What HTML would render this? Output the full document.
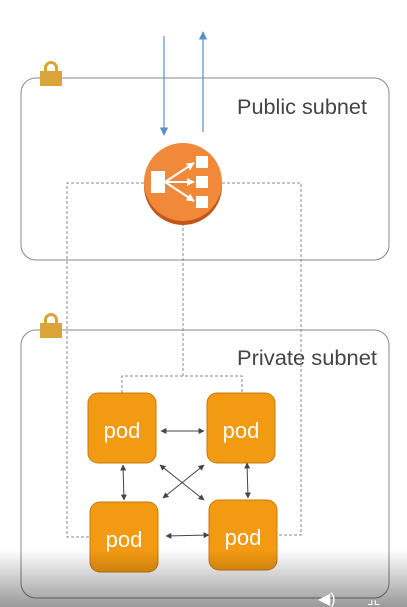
<!DOCTYPE html>
<html><head><style>
html,body{margin:0;padding:0;background:#fff;width:407px;height:607px;overflow:hidden}
svg{display:block}
text{font-family:"Liberation Sans",sans-serif}
</style></head><body>
<svg width="407" height="607" viewBox="0 0 407 607">
<defs>
<marker id="bh" viewBox="0 0 10 10" refX="9" refY="5" markerWidth="7" markerHeight="7" orient="auto-start-reverse"><path d="M0,0L10,5L0,10z" fill="#5b8fc7"/></marker>
<marker id="dh" viewBox="0 0 10 10" refX="9" refY="5" markerWidth="6" markerHeight="6" orient="auto-start-reverse"><path d="M0,0L10,5L0,10z" fill="#444"/></marker>
<marker id="wh" viewBox="0 0 10 10" refX="9" refY="5" markerWidth="4" markerHeight="4" orient="auto"><path d="M0,0L10,5L0,10z" fill="#fff"/></marker>
<linearGradient id="sh" x1="0" y1="0" x2="0" y2="1"><stop offset="0" stop-color="#000" stop-opacity="0"/><stop offset="1" stop-color="#000" stop-opacity="0.4"/></linearGradient>
</defs>
<rect x="21" y="78" width="368" height="182" rx="15" fill="none" stroke="#888" stroke-width="1"/>
<rect x="21" y="330" width="368" height="268" rx="15" fill="none" stroke="#888" stroke-width="1"/>
<g fill="#d9a43a"><path d="M44,72 v-4 a7,7 0 0 1 14,0 v4 h-3 v-4 a4,4 0 0 0 -8,0 v4z"/><rect x="40" y="71" width="22" height="15"/></g>
<g fill="#d9a43a"><path d="M44,324 v-4 a7,7 0 0 1 14,0 v4 h-3 v-4 a4,4 0 0 0 -8,0 v4z"/><rect x="40" y="323" width="22" height="15"/></g>
<text x="367" y="114" font-size="21" fill="#444" text-anchor="end" textLength="130" lengthAdjust="spacingAndGlyphs">Public subnet</text>
<text x="377" y="365" font-size="21" fill="#444" text-anchor="end" textLength="140" lengthAdjust="spacingAndGlyphs">Private subnet</text>
<line x1="164" y1="36" x2="164" y2="135" stroke="#5b8fc7" stroke-width="1.2" marker-end="url(#bh)"/>
<line x1="203" y1="132" x2="203" y2="32" stroke="#5b8fc7" stroke-width="1.2" marker-end="url(#bh)"/>
<g fill="none" stroke="#888" stroke-width="1" stroke-dasharray="3,2">
<polyline points="144,183 67,183 67,537 90,537"/>
<polyline points="222,183 301,183 301,535 277,535"/>
<polyline points="183,223 183,376"/>
<polyline points="122,393 122,376 242,376 242,393"/>
</g>
<circle cx="183" cy="186" r="39" fill="#c0561c"/>
<circle cx="183" cy="182" r="39" fill="#f08a3a"/>
<g fill="#fff"><rect x="151" y="171" width="14" height="22"/><rect x="196" y="156" width="12" height="12"/><rect x="196" y="176" width="12" height="12"/><rect x="196" y="196" width="12" height="12"/></g>
<g stroke="#fff" stroke-width="2" marker-end="url(#wh)"><line x1="165" y1="182" x2="194" y2="163"/><line x1="165" y1="182" x2="194" y2="182"/><line x1="165" y1="182" x2="194" y2="201"/></g>
<g fill="#f29a12" stroke="#c77a10" stroke-width="1">
<rect x="88" y="393" width="68" height="70" rx="10"/>
<rect x="207" y="393" width="68" height="70" rx="10"/>
<rect x="90" y="502" width="68" height="70" rx="10"/>
<rect x="209" y="500" width="68" height="70" rx="10"/>
</g>
<g font-size="22" fill="#fff" text-anchor="middle">
<text x="122" y="438">pod</text><text x="241" y="438">pod</text>
<text x="124" y="547">pod</text><text x="243" y="545">pod</text>
</g>
<g stroke="#444" stroke-width="1" marker-start="url(#dh)" marker-end="url(#dh)">
<line x1="161" y1="431" x2="204" y2="431"/>
<line x1="166" y1="536" x2="209" y2="535"/>
<line x1="123" y1="465" x2="124" y2="500"/>
<line x1="247" y1="463" x2="248" y2="498"/>
<line x1="160" y1="465" x2="204" y2="500"/>
<line x1="204" y1="465" x2="163" y2="498"/>
</g>
<rect x="0" y="550" width="407" height="57" fill="url(#sh)"/>
<text x="318" y="604" font-size="16" fill="#fff">◀)</text>
<text x="367" y="604" font-size="14" fill="#fff">⌟⌞</text>
</svg>
</body></html>
